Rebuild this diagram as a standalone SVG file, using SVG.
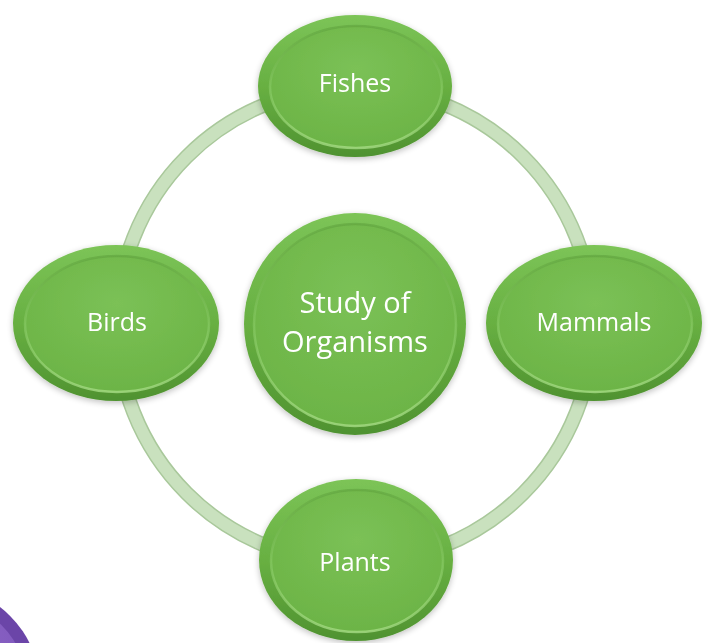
<svg xmlns="http://www.w3.org/2000/svg" width="713" height="643" viewBox="0 0 713 643">
  <defs>
    <linearGradient id="rim" x1="0" y1="0" x2="0" y2="1">
      <stop offset="0" stop-color="#7cc457"/>
      <stop offset="0.5" stop-color="#68b042"/>
      <stop offset="1" stop-color="#4f9230"/>
    </linearGradient>
    <linearGradient id="bevel" x1="0" y1="0" x2="0" y2="1">
      <stop offset="0" stop-color="#5a9c38" stop-opacity="0.5"/>
      <stop offset="0.5" stop-color="#8fd06c" stop-opacity="0.5"/>
      <stop offset="1" stop-color="#a6dc85" stop-opacity="0.8"/>
    </linearGradient>
    <radialGradient id="face" cx="0.5" cy="0.35" r="0.7">
      <stop offset="0" stop-color="#7bc156"/>
      <stop offset="1" stop-color="#6bb345"/>
    </radialGradient>
    <radialGradient id="purple" cx="0.3" cy="0.3" r="0.8">
      <stop offset="0" stop-color="#9670cc"/>
      <stop offset="1" stop-color="#7d55bb"/>
    </radialGradient>
    <filter id="sh" x="-20%" y="-20%" width="140%" height="140%">
      <feGaussianBlur in="SourceAlpha" stdDeviation="3"/>
      <feOffset dx="0" dy="2"/>
      <feComponentTransfer><feFuncA type="linear" slope="0.25"/></feComponentTransfer>
      <feMerge><feMergeNode/><feMergeNode in="SourceGraphic"/></feMerge>
    </filter>
  </defs>
  <style>
    .outer { fill: url(#rim); }
    .bev { fill: none; stroke: url(#bevel); stroke-width: 2.5; }
    .face { fill: url(#face); }
    .lbl { font-family: "Open Sans", "Liberation Sans", sans-serif; font-size: 25px; fill: #ffffff; text-anchor: middle; }
    .big { font-size: 29px; }
  </style>

  <g id="decor">
    <circle cx="-62" cy="688" r="102" fill="#6b45a8"/>
    <circle cx="-66" cy="692" r="95" fill="url(#purple)"/>
  </g>

  <g id="connectors">
    <circle cx="355" cy="325" r="238" fill="none" stroke="#a9c89b" stroke-width="15"/>
    <circle cx="355" cy="325" r="238" fill="none" stroke="#c9e1be" stroke-width="12"/>
  </g>

  <g id="center" filter="url(#sh)">
    <circle class="outer" cx="355" cy="324" r="111"/>
    <circle class="face" cx="355" cy="325" r="101"/>
    <circle class="bev" cx="355" cy="325" r="101"/>
    <text class="lbl big" x="355" y="313">Study of</text>
    <text class="lbl big" x="355" y="352">Organisms</text>
  </g>

  <g id="fishes" filter="url(#sh)">
    <ellipse class="outer" cx="355" cy="86" rx="97" ry="71"/>
    <ellipse class="face" cx="356" cy="87" rx="86" ry="61"/>
    <ellipse class="bev" cx="356" cy="87" rx="86" ry="61"/>
    <text class="lbl" x="355" y="92">Fishes</text>
  </g>

  <g id="birds" filter="url(#sh)">
    <ellipse class="outer" cx="116" cy="323" rx="103" ry="78"/>
    <ellipse class="face" cx="117" cy="324" rx="92" ry="68"/>
    <ellipse class="bev" cx="117" cy="324" rx="92" ry="68"/>
    <text class="lbl" x="117" y="331">Birds</text>
  </g>

  <g id="mammals" filter="url(#sh)">
    <ellipse class="outer" cx="594" cy="323" rx="108" ry="78"/>
    <ellipse class="face" cx="595" cy="324" rx="97" ry="68"/>
    <ellipse class="bev" cx="595" cy="324" rx="97" ry="68"/>
    <text class="lbl" x="594" y="331">Mammals</text>
  </g>

  <g id="plants" filter="url(#sh)">
    <ellipse class="outer" cx="356" cy="560" rx="97" ry="81"/>
    <ellipse class="face" cx="357" cy="561" rx="86" ry="71"/>
    <ellipse class="bev" cx="357" cy="561" rx="86" ry="71"/>
    <text class="lbl" x="355" y="571">Plants</text>
  </g>
</svg>
